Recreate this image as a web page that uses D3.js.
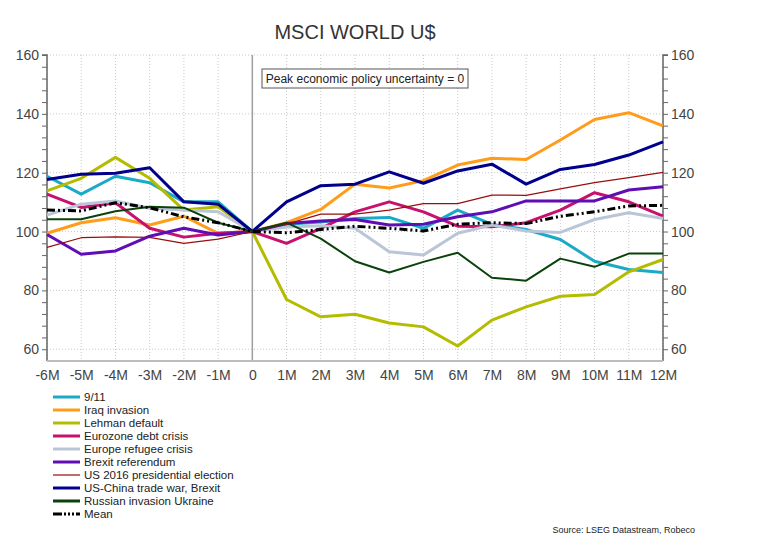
<!DOCTYPE html>
<html><head><meta charset="utf-8">
<script src="https://cdn.jsdelivr.net/npm/d3@7"></script>
<style>body{margin:0;background:#fff}svg{display:block;font-family:"Liberation Sans",Arial,sans-serif}</style>
</head><body><svg id="c" width="758" height="560"></svg>
<script>
const months = [-6,-5,-4,-3,-2,-1,0,1,2,3,4,5,6,7,8,9,10,11,12];
const monthLabels = ["-6M","-5M","-4M","-3M","-2M","-1M","0","1M","2M","3M","4M","5M","6M","7M","8M","9M","10M","11M","12M"];
const yTicks = [60,80,100,120,140,160];
const seriesNames = ["9/11","Iraq invasion","Lehman default","Eurozone debt crisis","Europe refugee crisis","Brexit referendum","US 2016 presidential election","US-China trade war, Brexit","Russian invasion Ukraine","Mean"];
const s911      = [118.8,112.7,118.8,116.6,110.1,110.1,100,102.5,103.2,104.4,104.8,101.1,107.3,102.4,100.7,97.3,89.9,87.1,86.1];
const sIraq     = [99.4,103.0,104.7,102.2,105.2,99.4,100,103.0,107.5,116.1,114.8,117.3,122.6,124.9,124.5,131.1,138.1,140.4,135.9];
const sLehman   = [113.8,118.1,125.2,118.1,107.3,108.4,100,76.9,71.0,71.9,68.9,67.6,61.1,69.9,74.4,78.0,78.6,86.3,90.5];
const sEurozone = [112.7,108.2,109.8,101.1,98.1,99.4,100,96.0,101.1,106.7,110.1,106.7,101.8,101.6,103.0,107.3,113.2,110.1,105.2];
const sRefugee  = [105.6,109.3,110.4,107.9,107.3,106.7,100,101.5,102.0,101.1,93.1,92.0,99.4,102.2,100.2,99.7,104.1,106.4,104.4];
const sBrexit   = [99.0,92.3,93.4,98.4,101.1,98.8,100,102.7,103.6,104.1,102.2,102.5,105.0,106.7,110.4,110.4,110.4,114.1,115.2];
const sUS2016   = [94.6,97.9,98.2,98.0,96.0,97.4,100,102.5,105.9,105.9,107.3,109.5,109.5,112.4,112.3,114.5,116.6,118.3,120.1];
const sTrade    = [117.7,119.5,119.8,121.7,110.1,109.3,100,110.1,115.6,116.1,120.3,116.4,120.6,122.9,116.1,121.1,122.8,126.0,130.5];
const sRussia   = [104.2,104.2,106.9,108.4,108.1,103.0,100,103.0,97.6,89.9,86.1,89.7,92.8,84.3,83.3,90.8,88.0,92.5,92.5];
const sMean     = [107.3,107.0,109.8,108.1,105.0,103.0,100,99.6,100.7,101.8,101.1,100.2,102.5,103.0,102.7,105.2,106.7,108.7,108.9];
const seriesValues = [s911,sIraq,sLehman,sEurozone,sRefugee,sBrexit,sUS2016,sTrade,sRussia,sMean];
const colors = ["#1aaac8","#ff9c1a","#b4bc00","#c8106e","#bac6d8","#5f0db5","#9a0d0d","#00008c","#0b420b","#000000"];
const widths = [3,3,3,3,3,3,1.2,3,2,3];
const dashes = [null,null,null,null,null,null,null,null,null,"8,3,2,3,2,3"];

const svg = d3.select("#c");
const x = d3.scaleLinear().domain([-6,12]).range([47,663]);
const y = d3.scaleLinear().domain([56,160]).range([361,55]);

// grid
const g = svg.append("g");
g.selectAll(".vg").data(months).join("line")
  .attr("x1",d=>x(d)).attr("x2",d=>x(d)).attr("y1",y(160)).attr("y2",y(56))
  .attr("stroke","#c8c8c8").attr("stroke-dasharray","1,2").attr("stroke-width",1);
g.selectAll(".hg").data(yTicks).join("line")
  .attr("x1",x(-6)).attr("x2",x(12)).attr("y1",d=>y(d)).attr("y2",d=>y(d))
  .attr("stroke","#c8c8c8").attr("stroke-dasharray","1,2").attr("stroke-width",1);

// zero line
svg.append("line").attr("x1",x(0)).attr("x2",x(0)).attr("y1",y(160)).attr("y2",y(56))
  .attr("stroke","#a0a0a0").attr("stroke-width",1.5);

// axes
const minorTicks = d3.range(60,161,4);
const yl = d3.axisLeft(y).tickValues(minorTicks).tickSize(5).tickFormat(d=>yTicks.includes(d)?d:"");
const yr = d3.axisRight(y).tickValues(minorTicks).tickSize(5).tickFormat(d=>yTicks.includes(d)?d:"");
function styleAxis(sel){
  sel.select(".domain").attr("stroke","#666").attr("stroke-width",1.5);
  sel.selectAll(".tick line").attr("stroke","#666");
  sel.selectAll("text").attr("fill","#444").attr("font-size","14px").attr("font-family","Liberation Sans, Arial, sans-serif");
}
const gl = svg.append("g").attr("transform",`translate(${x(-6)},0)`).call(yl);
styleAxis(gl); gl.select(".domain").attr("d",`M-5,${y(160)}H0V${y(56)}`);
const gr = svg.append("g").attr("transform",`translate(${x(12)},0)`).call(yr);
styleAxis(gr); gr.select(".domain").attr("d",`M5,${y(160)}H0V${y(56)}`);

const xa = d3.axisBottom(x).tickValues(months).tickSize(0).tickPadding(9).tickFormat((d,i)=>monthLabels[i]);
const gx = svg.append("g").attr("transform",`translate(0,${y(56)})`).call(xa);
styleAxis(gx); gx.select(".domain").attr("stroke","#bdbdbd").attr("stroke-width",2).attr("d",`M${x(-6)},0H${x(12)}`);

// lines
const line = d3.line().x((d,i)=>x(months[i])).y(d=>y(d));
seriesValues.forEach((vals,k)=>{
  const p = svg.append("path").datum(vals).attr("d",line).attr("fill","none")
    .attr("stroke",colors[k]).attr("stroke-width",widths[k]).attr("stroke-linejoin","round");
  if(dashes[k]) p.attr("stroke-dasharray",dashes[k]);
});

// title
svg.append("text").attr("x",355).attr("y",39).attr("text-anchor","middle")
  .attr("font-size","20px").attr("fill","#333").text("MSCI WORLD U$");

// annotation
svg.append("rect").attr("x",262).attr("y",69).attr("width",206).attr("height",19)
  .attr("fill","#fff").attr("stroke","#555").attr("stroke-width",1);
svg.append("text").attr("x",365).attr("y",83).attr("text-anchor","middle")
  .attr("font-size","12px").attr("fill","#222").text("Peak economic policy uncertainty = 0");

// legend
const lg = svg.append("g");
seriesNames.forEach((n,k)=>{
  const yy = 397 + k*13;
  const l = lg.append("line").attr("x1",53).attr("x2",80).attr("y1",yy).attr("y2",yy)
    .attr("stroke",colors[k]).attr("stroke-width",widths[k]===1.2?1.2:3);
  if(dashes[k]) l.attr("stroke-dasharray","9,2,2,2,2,2,2,2");
  lg.append("text").attr("x",84).attr("y",yy+4).attr("font-size","11.5px").attr("fill","#222").text(n);
});

svg.append("text").attr("x",695).attr("y",533).attr("text-anchor","end")
  .attr("font-size","9px").attr("fill","#222").text("Source: LSEG Datastream, Robeco");
</script></body></html>
